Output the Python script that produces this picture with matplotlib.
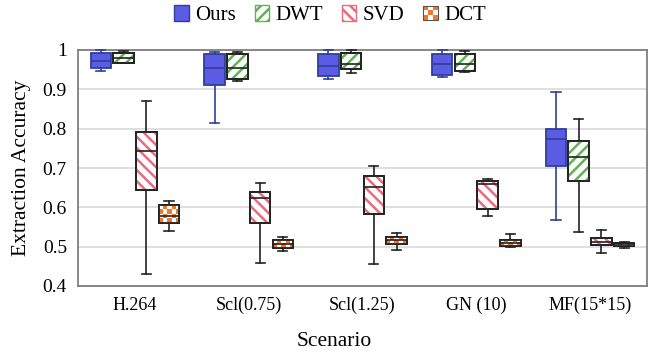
import numpy as np
import matplotlib
matplotlib.use("Agg")
import matplotlib.pyplot as plt
from matplotlib.patches import Patch, PathPatch, Rectangle
from matplotlib.legend_handler import HandlerBase

plt.rcParams['font.family'] = ['Liberation Serif', 'DejaVu Serif']
plt.rcParams['hatch.linewidth'] = 1.8

# Scenario labels and method names
scenarios = ["H.264", "Scl(0.75)", "Scl(1.25)", "GN (10)", "MF(15*15)"]
methods = ["Ours", "DWT", "SVD", "DCT"]

# Five-number summaries per method, one entry per scenario: (whislo, q1, med, q3, whishi)
ours = [
    (0.946, 0.955, 0.972, 0.992, 0.999),
    (0.815, 0.912, 0.953, 0.989, 0.994),
    (0.927, 0.934, 0.960, 0.990, 0.999),
    (0.931, 0.936, 0.964, 0.990, 0.999),
    (0.567, 0.705, 0.773, 0.798, 0.893),
]
dwt = [
    (0.966, 0.968, 0.980, 0.992, 0.998),
    (0.922, 0.927, 0.953, 0.989, 0.996),
    (0.941, 0.952, 0.965, 0.992, 0.999),
    (0.943, 0.947, 0.964, 0.990, 0.998),
    (0.537, 0.667, 0.728, 0.768, 0.824),
]
svd = [
    (0.431, 0.645, 0.742, 0.791, 0.871),
    (0.458, 0.560, 0.624, 0.639, 0.661),
    (0.455, 0.583, 0.652, 0.680, 0.705),
    (0.577, 0.597, 0.659, 0.667, 0.672),
    (0.485, 0.504, 0.512, 0.521, 0.543),
]
dct = [
    (0.541, 0.560, 0.578, 0.605, 0.617),
    (0.489, 0.497, 0.508, 0.518, 0.525),
    (0.492, 0.508, 0.516, 0.525, 0.535),
    (0.500, 0.501, 0.509, 0.517, 0.531),
    (0.497, 0.501, 0.506, 0.509, 0.511),
]

# styling: (face, edge, hatch, hatch colour)
styles = {
    "Ours": ("#5B5BE3", "#2E3F9C", None, None),
    "DWT": ("white", "#222222", "///", "#5DB552"),
    "SVD": ("white", "#222222", "\\\\\\", "#EC6A7C"),
    "DCT": ("white", "#222222", None, None),
}
checker_color = "#F07A2A"


class CheckerHandler(HandlerBase):
    """Legend key drawn as a small orange/white checkerboard."""

    def create_artists(self, legend, orig_handle, xdescent, ydescent,
                       width, height, fontsize, trans):
        arts = []
        n = 3
        side = min(width, height)
        x0 = -xdescent + (width - side) / 2
        y0 = -ydescent + (height - side) / 2
        cell = side / n
        for i in range(n):
            for j in range(n):
                fc = checker_color if (i + j) % 2 == 0 else 'white'
                arts.append(Rectangle((x0 + i * cell, y0 + j * cell), cell, cell,
                                      facecolor=fc, edgecolor='none',
                                      transform=trans))
        arts.append(Rectangle((x0, y0), side, side, facecolor='none',
                              edgecolor='#555555', linewidth=0.8, transform=trans))
        return arts


fig = plt.figure(figsize=(6.57, 3.58), dpi=100)
ax = fig.add_axes([78 / 657, (358 - 286) / 358, 569 / 657, 236 / 358])

x = np.arange(len(scenarios))
offsets = [-0.3, -0.1, 0.1, 0.3]
box_w = 0.18

dct_boxes = []
for name, data, off in zip(methods, [ours, dwt, svd, dct], offsets):
    face, edge, hatch, hcol = styles[name]
    stats = [dict(whislo=a, q1=b, med=c, q3=d, whishi=e, fliers=[])
             for a, b, c, d, e in data]
    bp = ax.bxp(stats, positions=x + off, widths=box_w, patch_artist=True,
                showfliers=False, capwidths=0.08,
                boxprops=dict(facecolor=face, edgecolor=edge, linewidth=1.3, clip_on=False),
                whiskerprops=dict(color=edge, linewidth=1.2, clip_on=False),
                capprops=dict(color=edge, linewidth=1.2, clip_on=False),
                medianprops=dict(color=edge, linewidth=1.2, clip_on=False),
                manage_ticks=False, zorder=3)
    for box in bp['boxes']:
        if hatch:
            hp = PathPatch(box.get_path(), facecolor='none', edgecolor=hcol,
                           linewidth=0, hatch=hatch, zorder=3.1, clip_on=False)
            ax.add_patch(hp)
            ol = PathPatch(box.get_path(), facecolor='none', edgecolor=edge,
                           linewidth=1.3, zorder=3.2, clip_on=False)
            ax.add_patch(ol)
        if name == "DCT":
            dct_boxes.append(box)
    for med in bp['medians']:
        med.set_zorder(3.5)

ax.set_xlim(-0.5, len(scenarios) - 0.5)
ax.set_ylim(0.4, 1.0)

# checkerboard fill for DCT boxes
fig.canvas.draw()
for box in dct_boxes:
    ext = box.get_path().get_extents()
    x0, y0, x1, y1 = ext.x0, ext.y0, ext.x1, ext.y1
    p0 = ax.transData.transform((x0, y0))
    p1 = ax.transData.transform((x1, y1))
    nx = max(1, int(round((p1[0] - p0[0]) / 4.0)))
    ny = max(1, int(round((p1[1] - p0[1]) / 4.0)))
    grid = np.indices((ny, nx)).sum(axis=0) % 2
    img = np.ones((ny, nx, 3))
    img[grid == 1] = matplotlib.colors.to_rgb(checker_color)
    im = ax.imshow(img, extent=(x0, x1, y0, y1), aspect='auto',
                   interpolation='nearest', zorder=3.1)
    im.set_clip_path(box)
    ol = PathPatch(box.get_path(), facecolor='none', edgecolor="#222222",
                   linewidth=1.3, zorder=3.2)
    ax.add_patch(ol)

ax.set_xlim(-0.5, len(scenarios) - 0.5)
ax.set_ylim(0.4, 1.0)
ax.set_xticks(x)
ax.set_xticklabels(scenarios, fontsize=13)
ax.set_yticks([0.4, 0.5, 0.6, 0.7, 0.8, 0.9, 1.0])
ax.set_yticklabels(["0.4", "0.5", "0.6", "0.7", "0.8", "0.9", "1"], fontsize=14)
ax.tick_params(length=0, pad=8)
ax.grid(axis='y', color='#D9D9D9', linewidth=1.2, zorder=0)
ax.set_axisbelow(True)
for sp in ax.spines.values():
    sp.set_color('#7F7F7F')
    sp.set_linewidth(1.3)
    sp.set_zorder(2)

fig.text(22 / 657, 1 - 168 / 358, "Extraction Accuracy", rotation=90,
         ha='center', va='center', fontsize=15.5)
fig.text(334 / 657, 1 - 342 / 358, "Scenario", ha='center', va='center',
         fontsize=15.5)

handles = [
    Patch(facecolor=styles["Ours"][0], edgecolor=styles["Ours"][1]),
    Patch(facecolor='white', edgecolor=styles["DWT"][3], hatch='///'),
    Patch(facecolor='white', edgecolor=styles["SVD"][3], hatch='\\\\\\'),
    Patch(facecolor=checker_color),
]
fig.legend(handles, methods, loc='center', bbox_to_anchor=(330 / 657, 1 - 15 / 358),
           ncol=4, frameon=False, fontsize=15, handlelength=0.7, handleheight=0.8,
           handletextpad=0.3, columnspacing=0.9, borderaxespad=0,
           handler_map={handles[3]: CheckerHandler()})

fig.savefig("out.png", dpi=100)
